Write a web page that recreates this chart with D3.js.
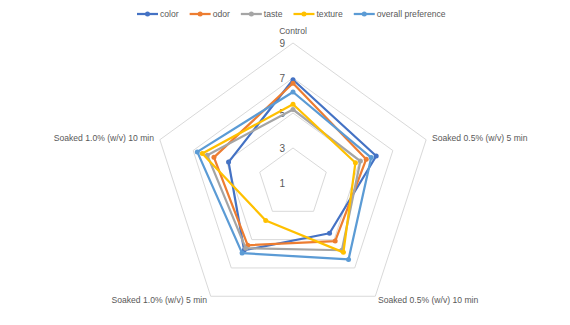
<!DOCTYPE html>
<html><head><meta charset="utf-8">
<script src="https://cdn.jsdelivr.net/npm/d3@7"></script>
<style>body{margin:0;background:#fff}svg{display:block}</style>
</head><body>
<svg id="c" width="570" height="325"></svg>
<script>
const categories = ["Control","Soaked 0.5% (w/v) 5 min","Soaked 0.5% (w/v) 10 min","Soaked 1.0% (w/v) 5 min","Soaked 1.0% (w/v) 10 min"];
const seriesNames = ["color","odor","taste","texture","overall preference"];
const colorVals   = [6.9, 6.0, 4.55, 5.75, 4.87];
const odorVals    = [6.7, 5.4, 5.1, 5.4, 5.75];
const tasteVals   = [5.2, 5.05, 5.75, 5.6, 6.15];
const textureVals = [5.5, 4.75, 5.9, 3.65, 6.45];
const overallVals = [6.2, 5.7, 6.4, 5.95, 6.75];
const tickVals = [1, 3, 5, 7, 9];

const seriesData = [colorVals, odorVals, tasteVals, textureVals, overallVals];
const colors = ["#4472C4","#ED7D31","#A5A5A5","#FFC000","#5B9BD5"];

const svg = d3.select("#c");
const cx = 293, cy = 183;
const r = d3.scaleLinear().domain([1, 9]).range([0, 140]);
const ang = d3.scaleLinear().domain([0, categories.length]).range([0, 2*Math.PI]);
const pt = (i, v) => [cx + r(v)*Math.sin(ang(i)), cy - r(v)*Math.cos(ang(i))];
const font = "'Liberation Sans', Arial, sans-serif";

// grid rings
tickVals.filter(t => t > 1).forEach(t => {
  svg.append("polygon")
    .attr("points", categories.map((c,i) => pt(i,t).join(",")).join(" "))
    .attr("fill","none").attr("stroke","#D9D9D9").attr("stroke-width",1);
});

// tick labels
tickVals.forEach(t => {
  svg.append("text").attr("x", cx-8).attr("y", cy - r(t)).attr("dy","0.35em")
    .attr("text-anchor","end").attr("font-family",font).attr("font-size",10)
    .attr("fill","#595959").text(t);
});

// category labels
const labelPos = [
  {x: cx, y: 31, a: "middle"},
  {x: 432, y: 138, a: "start"},
  {x: 378, y: 300, a: "start"},
  {x: 207, y: 300, a: "end"},
  {x: 154, y: 138, a: "end"}
];
categories.forEach((c,i) => {
  svg.append("text").attr("x", labelPos[i].x).attr("y", labelPos[i].y).attr("dy","0.35em")
    .attr("text-anchor", labelPos[i].a).attr("font-family",font).attr("font-size",8.6)
    .attr("fill","#595959").text(c);
});

// series
const line = d3.line().curve(d3.curveLinearClosed);
seriesData.forEach((vals, s) => {
  const pts = vals.map((v,i) => pt(i,v));
  svg.append("path").attr("d", line(pts)).attr("fill","none")
    .attr("stroke", colors[s]).attr("stroke-width", 2.25).attr("stroke-linejoin","round");
  svg.selectAll(null).data(pts).enter().append("circle")
    .attr("cx", d => d[0]).attr("cy", d => d[1]).attr("r", 2.5).attr("fill", colors[s]);
});

// legend
let lx = 137;
const ly = 14;
seriesNames.forEach((n, s) => {
  const g = svg.append("g");
  g.append("line").attr("x1", lx).attr("x2", lx+21).attr("y1", ly).attr("y2", ly)
    .attr("stroke", colors[s]).attr("stroke-width", 2.25);
  g.append("circle").attr("cx", lx+10.5).attr("cy", ly).attr("r", 2.5).attr("fill", colors[s]);
  const t = g.append("text").attr("x", lx+23).attr("y", ly).attr("dy","0.35em")
    .attr("font-family",font).attr("font-size",8.6).attr("fill","#595959").text(n);
  lx += 23 + t.node().getComputedTextLength() + 11;
});
</script>
</body></html>
